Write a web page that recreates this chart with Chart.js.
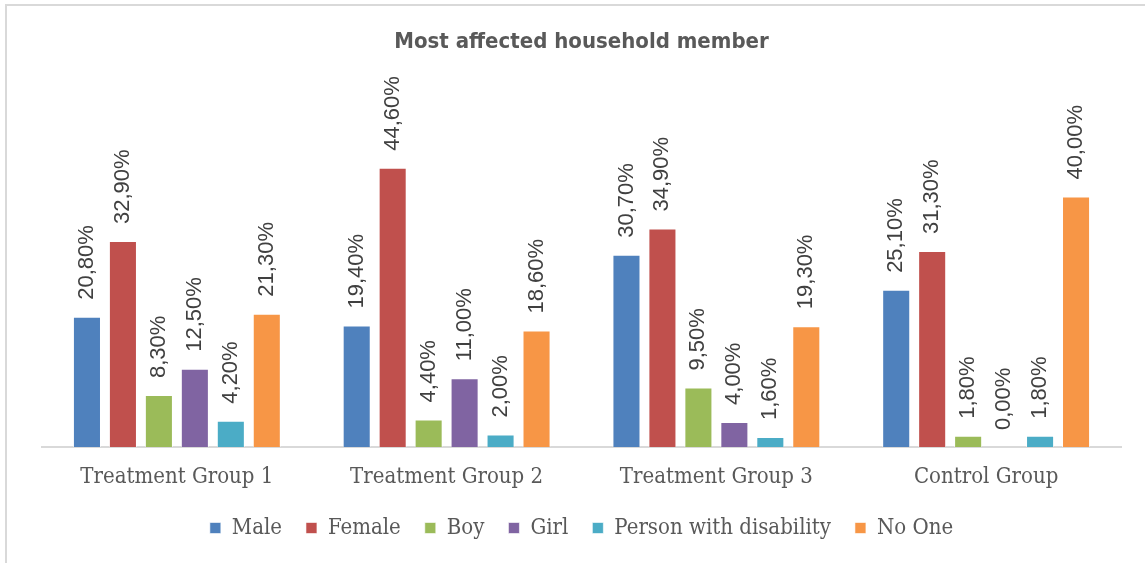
<!DOCTYPE html>
<html>
<head>
<meta charset="utf-8">
<script src="https://cdn.jsdelivr.net/npm/chart.js@4/dist/chart.umd.min.js"></script>
<style>
html,body{margin:0;padding:0;background:#fff;}
#wrap{position:relative;width:1147px;height:563px;}
</style>
</head>
<body>
<div id="wrap"><canvas id="c" width="1147" height="563"></canvas></div>
<script>
const categories = ["Treatment Group 1", "Treatment Group 2", "Treatment Group 3", "Control Group"];
const male = [20.8, 19.4, 30.7, 25.1];
const female = [32.9, 44.6, 34.9, 31.3];
const boy = [8.3, 4.4, 9.5, 1.8];
const girl = [12.5, 11.0, 4.0, 0.0];
const disability = [4.2, 2.0, 1.6, 1.8];
const noOne = [21.3, 18.6, 19.3, 40.0];
const seriesNames = ["Male", "Female", "Boy", "Girl", "Person with disability", "No One"];
const seriesColors = ["#4F81BD", "#C0504D", "#9BBB59", "#8064A2", "#4BACC6", "#F79646"];
const seriesData = [male, female, boy, girl, disability, noOne];

const SERIF = '"DejaVu Serif Condensed", "DejaVu Serif", serif';

const frame = {
  id: 'frame',
  beforeDraw(chart) {
    const ctx = chart.ctx;
    ctx.save();
    ctx.strokeStyle = '#d9d9d9';
    ctx.lineWidth = 2;
    ctx.beginPath();
    ctx.moveTo(5, 5); ctx.lineTo(1145, 5);
    ctx.moveTo(6, 5); ctx.lineTo(6, 563);
    ctx.stroke();
    ctx.restore();
  }
};

const labelsPlugin = {
  id: 'vlabels',
  afterDatasetsDraw(chart) {
    const ctx = chart.ctx;
    ctx.save();
    ctx.font = '22px "Liberation Sans", "DejaVu Sans", sans-serif';
    ctx.fillStyle = '#404040';
    ctx.textAlign = 'left';
    ctx.textBaseline = 'middle';
    chart.data.datasets.forEach((ds, i) => {
      const meta = chart.getDatasetMeta(i);
      meta.data.forEach((bar, j) => {
        const v = ds.data[j];
        const txt = v.toFixed(2).replace('.', ',') + '%';
        ctx.save();
        ctx.translate(bar.x, bar.y - 17);
        ctx.rotate(-Math.PI / 2);
        ctx.fillText(txt, 0, 0);
        ctx.restore();
      });
    });
    ctx.restore();
  }
};

new Chart(document.getElementById('c'), {
  type: 'bar',
  data: {
    labels: categories,
    datasets: seriesNames.map((n, i) => ({
      label: n,
      data: seriesData[i],
      backgroundColor: seriesColors[i],
      borderColor: 'rgba(255,255,255,0.6)',
      borderWidth: 1,
      categoryPercentage: 0.80,
      barPercentage: 0.78
    }))
  },
  options: {
    responsive: false,
    animation: false,
    layout: { padding: { left: 42, right: 26, top: 20, bottom: 14 } },
    plugins: {
      title: {
        display: true,
        text: 'Most affected household member',
        color: '#595959',
        font: { family: '"DejaVu Sans Condensed", "DejaVu Sans", sans-serif', size: 22, weight: 'bold' },
        padding: { top: 9, bottom: 78.6 }
      },
      legend: {
        position: 'bottom',
        labels: {
          color: '#595959',
          font: { family: SERIF, size: 22 },
          boxWidth: 11,
          boxHeight: 11,
          padding: 24
        }
      },
      tooltip: { enabled: false }
    },
    scales: {
      x: {
        grid: { display: false, drawTicks: false },
        border: { display: true, color: '#d9d9d9', width: 2 },
        ticks: {
          color: '#595959',
          font: { family: SERIF, size: 22 },
          padding: 17
        },
        afterFit(scale) { scale.height = 46; }
      },
      y: {
        display: false,
        min: 0,
        max: 50
      }
    }
  },
  plugins: [frame, labelsPlugin]
});
</script>
</body>
</html>
